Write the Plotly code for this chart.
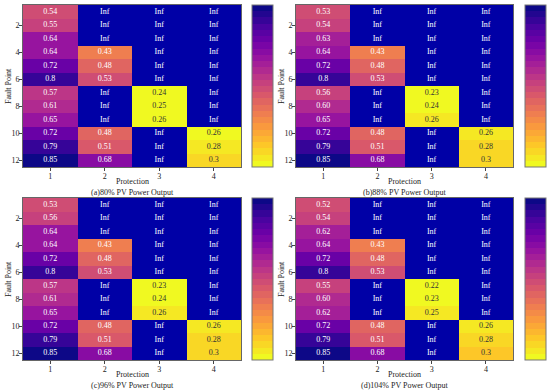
import plotly.graph_objects as go
from plotly.colors import sample_colorscale

# ---------------- data ----------------
fault_points = list(range(1, 13))
protections = [1, 2, 3, 4]
y_ticks = [2, 4, 6, 8, 10, 12]

panel_titles = ["(a)80% PV Power Output", "(b)88% PV Power Output",
                "(c)96% PV Power Output", "(d)104% PV Power Output"]
x_title = "Protection"
y_title = "Fault Point"

# values per protection column (rows = fault points 1..12), "Inf" = no operation
a_p1 = ["0.54", "0.55", "0.64", "0.64", "0.72", "0.8", "0.57", "0.61", "0.65", "0.72", "0.79", "0.85"]
a_p2 = ["Inf", "Inf", "Inf", "0.43", "0.48", "0.53", "Inf", "Inf", "Inf", "0.48", "0.51", "0.68"]
a_p3 = ["Inf"] * 6 + ["0.24", "0.25", "0.26"] + ["Inf"] * 3
a_p4 = ["Inf"] * 9 + ["0.26", "0.28", "0.3"]

b_p1 = ["0.53", "0.54", "0.63", "0.64", "0.72", "0.8", "0.56", "0.60", "0.65", "0.72", "0.79", "0.85"]
b_p2 = ["Inf", "Inf", "Inf", "0.43", "0.48", "0.53", "Inf", "Inf", "Inf", "0.48", "0.51", "0.68"]
b_p3 = ["Inf"] * 6 + ["0.23", "0.24", "0.26"] + ["Inf"] * 3
b_p4 = ["Inf"] * 9 + ["0.26", "0.28", "0.3"]

c_p1 = ["0.53", "0.56", "0.64", "0.64", "0.72", "0.8", "0.57", "0.61", "0.65", "0.72", "0.79", "0.85"]
c_p2 = ["Inf", "Inf", "Inf", "0.43", "0.48", "0.53", "Inf", "Inf", "Inf", "0.48", "0.51", "0.68"]
c_p3 = ["Inf"] * 6 + ["0.23", "0.24", "0.26"] + ["Inf"] * 3
c_p4 = ["Inf"] * 9 + ["0.26", "0.28", "0.3"]

d_p1 = ["0.52", "0.54", "0.62", "0.64", "0.72", "0.8", "0.55", "0.60", "0.62", "0.72", "0.79", "0.85"]
d_p2 = ["Inf", "Inf", "Inf", "0.43", "0.48", "0.53", "Inf", "Inf", "Inf", "0.48", "0.51", "0.68"]
d_p3 = ["Inf"] * 6 + ["0.22", "0.23", "0.25"] + ["Inf"] * 3
d_p4 = ["Inf"] * 9 + ["0.26", "0.28", "0.3"]

panels = [
    [a_p1, a_p2, a_p3, a_p4],
    [b_p1, b_p2, b_p3, b_p4],
    [c_p1, c_p2, c_p3, c_p4],
    [d_p1, d_p2, d_p3, d_p4],
]

# ---------------- style ----------------
W, H = 550, 390
FONT = "Liberation Serif, Times New Roman, serif"
TXT = "#222222"
INF_COLOR = "#0000a6"
N_BANDS = 26

plasma_r = sample_colorscale("Plasma_r", [i / (N_BANDS - 1) for i in range(N_BANDS)])
colorscale = []
for i, c in enumerate(plasma_r):
    colorscale.append([i / N_BANDS, c])
    colorscale.append([(i + 1) / N_BANDS, c])

# pixel boxes (left, right, top, bottom) for plot areas and colorbars
boxes = [(23, 241, 5, 167), (296, 513, 5, 167), (23, 241, 198, 360), (296, 513, 198, 360)]
cbar_left = [252, 525, 252, 525]

fig = go.Figure()

def to_num(s):
    return None if s == "Inf" else float(s)

for k, cols in enumerate(panels):
    xa = "x" if k == 0 else f"x{k+1}"
    ya = "y" if k == 0 else f"y{k+1}"
    z = [[to_num(cols[j][i]) for j in range(4)] for i in range(12)]
    nums = [v for row in z for v in row if v is not None]
    l, r, t, b = boxes[k]
    fig.add_trace(go.Heatmap(
        z=z, x=protections, y=fault_points, xaxis=xa, yaxis=ya,
        colorscale=colorscale, zmin=min(nums), zmax=max(nums),
        hoverongaps=False,
        colorbar=dict(
            x=cbar_left[k] / W, xanchor="left", xpad=0, ypad=0,
            y=1 - t / H, yanchor="top", len=(b - t) / H, lenmode="fraction",
            thickness=21, thicknessmode="pixels",
            showticklabels=False, ticks="",
            outlinecolor="#777777", outlinewidth=1,
        ),
    ))
    xs, ys, txt, tc = [], [], [], []
    for j in range(4):
        for i in range(12):
            xs.append(protections[j])
            ys.append(fault_points[i])
            txt.append(cols[j][i])
            v = to_num(cols[j][i])
            tc.append("#333333" if (v is not None and v < 0.35) else "#ffffff")
    fig.add_trace(go.Scatter(
        x=xs, y=ys, text=txt, mode="text", xaxis=xa, yaxis=ya,
        textfont=dict(family=FONT, size=8, color=tc),
        hoverinfo="skip", showlegend=False,
    ))

    ax_common = dict(showline=True, mirror=True, linecolor="#666666", linewidth=1,
                     showgrid=False, zeroline=False, ticks="outside", ticklen=3,
                     tickwidth=1, tickcolor="#444444", automargin=False,
                     ticklabelstandoff=-2,
                     tickfont=dict(family=FONT, size=8, color=TXT))
    fig.layout[f"xaxis{'' if k == 0 else k+1}"] = dict(
        domain=[l / W, r / W], anchor=ya, range=[0.5, 4.5],
        tickvals=protections, **ax_common)
    fig.layout[f"yaxis{'' if k == 0 else k+1}"] = dict(
        domain=[1 - b / H, 1 - t / H], anchor=xa, range=[12.5, 0.5],
        tickvals=y_ticks, **ax_common)

    # axis titles and panel caption
    fig.add_annotation(text=x_title, x=(l + r) / 2 / W, y=1 - (b + 14) / H,
                       xref="paper", yref="paper", showarrow=False,
                       xanchor="center", yanchor="middle",
                       font=dict(family=FONT, size=8, color=TXT))
    fig.add_annotation(text=y_title, x=(l - 15) / W, y=1 - (t + b) / 2 / H,
                       xref="paper", yref="paper", showarrow=False, textangle=-90,
                       xanchor="center", yanchor="middle",
                       font=dict(family=FONT, size=8, color=TXT))
    fig.add_annotation(text=panel_titles[k], x=(l + r) / 2 / W, y=1 - (b + 25) / H,
                       xref="paper", yref="paper", showarrow=False,
                       xanchor="center", yanchor="middle",
                       font=dict(family=FONT, size=8, color=TXT))

fig.update_layout(
    width=W, height=H, margin=dict(l=0, r=0, t=0, b=0, autoexpand=False),
    paper_bgcolor="white", plot_bgcolor=INF_COLOR,
    showlegend=False,
)

fig.write_html("out.html", config={"displayModeBar": False},
               post_script="document.body.style.margin='0';")
